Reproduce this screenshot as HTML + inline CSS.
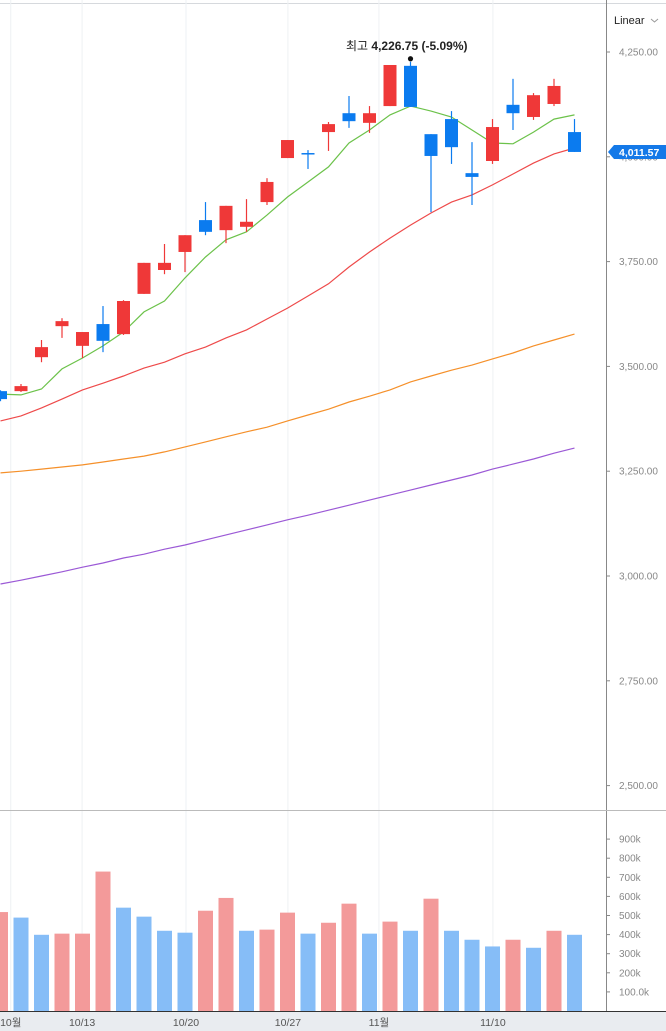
<!DOCTYPE html>
<html><head><meta charset="utf-8"><style>
body{margin:0;background:#fff;}
svg{display:block;font-family:"Liberation Sans","Noto Sans CJK KR",sans-serif;}
</style></head><body>
<svg id="chart" width="666" height="1031" viewBox="0 0 666 1031">
<rect x="0" y="0" width="666" height="1031" fill="#fff"/>
<line x1="0" y1="3.5" x2="666" y2="3.5" stroke="#d6d9dd"/>
<rect x="0" y="1012" width="666" height="19" fill="#e9ecf0"/>
<g id="grid"></g>
<g id="vol"></g>
<g id="lines"></g>
<g id="candles"></g>
<line x1="606.5" y1="0" x2="606.5" y2="1012" stroke="#888"/>
<line x1="0" y1="810.5" x2="666" y2="810.5" stroke="#bbb"/>
<line x1="0" y1="1011.5" x2="666" y2="1011.5" stroke="#333"/>
<g id="yticks"></g>
<g id="xticks"></g>
<text x="614" y="24" font-size="11" fill="#222">Linear</text>
<path d="M651 19 l3.5 3 l3.5 -3" fill="none" stroke="#999"/>
<text x="346" y="50" font-size="12" fill="#222">최고 <tspan font-weight="bold">4,226.75 (-5.09%)</tspan></text>
<circle id="hidot" cx="411" cy="59" r="2.6" fill="#111"/>
<g>
<path id="lastbox" d="" fill="#1479e8"/>
<text id="lasttxt" x="619" y="0" font-size="10.5" font-weight="bold" fill="#fff">4,011.57</text>
</g>
</svg>
<script>
const opens  =[3441,3441,3522,3596,3549,3601,3577,3673,3730,3773,3849,3825,3833,3892,3997,4009,4059,4104,4081,4121,4217,4054,4090,3961,3990,4124,4095,4126,4059];
const highs  =[3443,3458,3563,3615,3582,3644,3658,3747,3792,3813,3892,3883,3899,3949,4040,4016,4083,4145,4121,4219,4226.75,4054,4109,4035,4090,4186,4152,4186,4090];
const lows   =[3417,3439,3510,3568,3520,3534,3575,3673,3720,3725,3813,3794,3821,3885,3997,3971,4014,4069,4057,4121,4119,3868,3983,3885,3983,4064,4088,4121,4011.57];
const closes =[3422,3453,3546,3608,3582,3561,3656,3747,3747,3813,3821,3883,3845,3940,4040,4007,4078,4085,4104,4219,4119,4002,4023,3952,4071,4104,4147,4169,4011.57];
const ma5  =[3434,3432,3446,3494,3520,3549,3582,3630,3656,3711,3761,3802,3821,3861,3904,3940,3976,4033,4064,4100,4121,4109,4095,4064,4033,4031,4059,4090,4100];
const ma20 =[3370,3382,3401,3422,3444,3460,3477,3496,3510,3530,3546,3568,3587,3613,3639,3668,3697,3737,3773,3806,3837,3866,3892,3909,3933,3959,3985,4007,4021];
const ma60 =[3246,3250,3255,3260,3265,3272,3279,3286,3296,3308,3320,3332,3344,3355,3370,3384,3398,3415,3429,3444,3463,3477,3491,3503,3518,3532,3549,3563,3577];
const ma120=[2981,2990,3000,3010,3021,3031,3043,3052,3064,3074,3086,3098,3110,3122,3134,3145,3157,3169,3181,3193,3205,3217,3229,3241,3255,3267,3279,3293,3305];
const volumes=[518,489,399,405,405,730,541,494,420,410,525,592,420,426,515,405,462,562,405,468,420,588,420,373,338,373,331,420,399];
const volUp=[1,0,0,1,1,1,0,0,0,0,1,1,0,1,1,0,1,1,0,1,0,1,0,0,0,1,0,1,0];
const priceTicks=[4250,4000,3750,3500,3250,3000,2750,2500];
const volTicks=[100,200,300,400,500,600,700,800,900];
const xLabels=["10월","10/13","10/20","10/27","11월","11/10"];
const xLabelPos=[0.5,3.98,9.05,14.02,18.46,24.02];

const NS="http://www.w3.org/2000/svg";
function X(i){return 0.5+20.5*i;}
function Y(p){return 52+(4250-p)*0.4192;}
function VY(v){return 1011-v*0.191;}
function mk(tag,attrs,parent){const e=document.createElementNS(NS,tag);for(const k in attrs)e.setAttribute(k,attrs[k]);parent.appendChild(e);return e;}
const grid=document.getElementById('grid'),vol=document.getElementById('vol'),lines=document.getElementById('lines'),cg=document.getElementById('candles'),yt=document.getElementById('yticks'),xt=document.getElementById('xticks');

xLabelPos.forEach((p,i)=>{
  const x=X(p);
  let g=mk('line',{x1:x,y1:0,x2:x,y2:1011,stroke:'#eef1f4'},grid);
  
  
  let t=mk('text',{x:x,y:1026,'font-size':10.5,fill:'#555','text-anchor':'middle'},xt);
  t.textContent=xLabels[i];
  
  
});
priceTicks.forEach(p=>{
  const y=Y(p);
  let l=mk('line',{x1:606,y1:y,x2:610,y2:y,stroke:'#888'},yt);
  
  
  let t=mk('text',{x:619,y:y+3.5,'font-size':10,fill:'#888'},yt);
  t.textContent=p.toLocaleString('en-US',{minimumFractionDigits:2});
  
  
});
volTicks.forEach(v=>{
  const y=VY(v);
  let l=mk('line',{x1:606,y1:y,x2:610,y2:y,stroke:'#888'},yt);
  
  
  let t=mk('text',{x:619,y:y+3.5,'font-size':10,fill:'#888'},yt);
  t.textContent=v===100?'100.0k':v+'k';
  
  
});
volumes.forEach((v,i)=>{
  const x=X(i),y=VY(v);
  let r=mk('rect',{x:x-7.5,y:y,width:15,height:1011-y,fill:volUp[i]?'#f39a9a':'#86bdf7'},vol);
  
  
});
[[ma120,'#9b59d6','ma120-line'],[ma60,'#f5902a','ma60-line'],[ma20,'#ee4a4a','ma20-line'],[ma5,'#6cc24a','ma5-line']].forEach(([arr,c,n])=>{
  let d=arr.map((p,i)=>(i?'L':'M')+X(i).toFixed(1)+' '+Y(p).toFixed(1)).join(' ');
  let pth=mk('path',{d:d,fill:'none',stroke:c,'stroke-width':1.2},lines);
  
  
});
opens.forEach((o,i)=>{
  const c=closes[i],up=c>=o,col=up?'#ef3838':'#0b7bef',x=X(i);
  let w=mk('line',{x1:x,y1:Y(highs[i]),x2:x,y2:Y(lows[i]),stroke:col,'stroke-width':1.2},cg);
  
  
  const top=Y(Math.max(o,c)),bot=Y(Math.min(o,c));
  let b=mk('rect',{x:x-6.5,y:top,width:13,height:Math.max(1.5,bot-top),fill:col},cg);
  
  
});
const hi=document.getElementById('hidot');hi.setAttribute('cy',Y(highs[20])-3);hi.setAttribute('cx',X(20));
const ly=Y(closes[28]);
document.getElementById('lastbox').setAttribute('d',`M608 ${ly} L614 ${ly-7} L666 ${ly-7} L666 ${ly+7} L614 ${ly+7} Z`);
document.getElementById('lasttxt').setAttribute('y',ly+4);
</script>
</body></html>
